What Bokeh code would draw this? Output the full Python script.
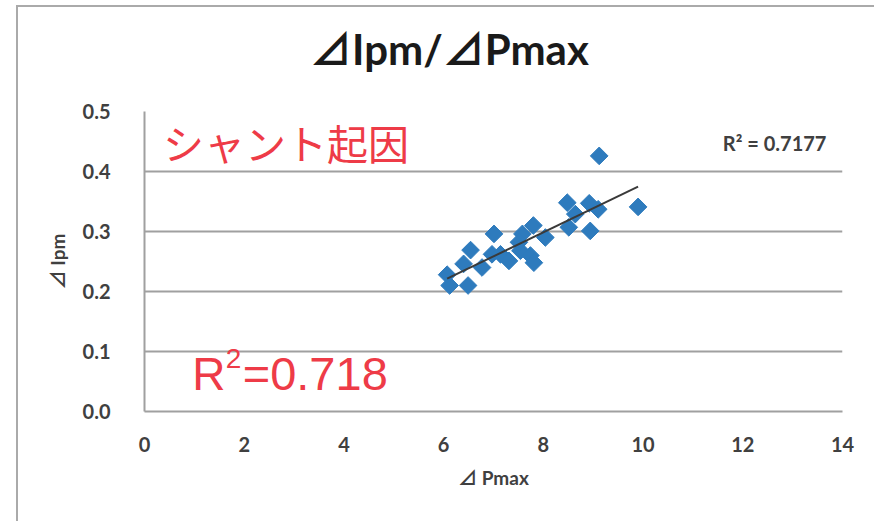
import numpy as np
from bokeh.plotting import figure
from bokeh.layouts import column
from bokeh.models import Label, Range1d, FixedTicker, NumeralTickFormatter, Div
from bokeh.embed import file_html
from bokeh.resources import INLINE

# ΔPmax vs ΔIpm measurements
d_pmax = [6.07, 6.12, 6.49, 6.40, 6.54, 6.77, 7.01, 6.97, 7.14, 7.31, 7.54, 7.58,
          7.51, 7.80, 8.04, 7.74, 7.81, 8.51, 8.48, 8.64, 8.94, 8.92, 9.10, 9.12, 9.90]
d_ipm = [0.228, 0.210, 0.210, 0.246, 0.269, 0.240, 0.296, 0.262, 0.262, 0.251, 0.268, 0.296,
         0.282, 0.310, 0.290, 0.260, 0.248, 0.307, 0.348, 0.329, 0.301, 0.347, 0.337, 0.426, 0.341]

x_ticks = [0, 2, 4, 6, 8, 10, 12, 14]
y_ticks = [0.0, 0.1, 0.2, 0.3, 0.4, 0.5]

title_text = "⊿Ipm/⊿Pmax"
x_label = "⊿ Pmax"
y_label = "⊿ Ipm"
note_text = "シャント起因"
r2_excel = "R² = 0.7177"

UI_FONT = "Lato, 'Noto Sans CJK JP', 'DejaVu Sans'"
TXT = "#404040"
GRID = "#a0a0a0"
RED = "#ee3b47"
BLUE = "#2e7bbd"

CHART_W = 856
HEAD_H = 90

# chart title block
head = Div(
    text=(f'<div style="margin:0; padding:21px 0 0 292px; line-height:1; '
          f'font-family:{UI_FONT}; font-weight:bold; font-size:42px; '
          f'color:#1a1a1a; white-space:nowrap;">{title_text}</div>'),
    width=CHART_W, height=HEAD_H, margin=0)

p = figure(width=CHART_W, height=514 - HEAD_H, output_backend="svg", toolbar_location=None,
           x_range=Range1d(0, 14), y_range=Range1d(0, 0.5),
           min_border_left=126, min_border_right=32,
           min_border_top=104 - HEAD_H, min_border_bottom=110, margin=0)
p.outline_line_color = None
p.background_fill_color = "white"
p.border_fill_color = "white"

# axes
p.xaxis.ticker = FixedTicker(ticks=x_ticks)
p.yaxis.ticker = FixedTicker(ticks=y_ticks)
p.yaxis.formatter = NumeralTickFormatter(format="0.0")
for ax in (p.xaxis[0], p.yaxis[0]):
    ax.axis_line_color = GRID
    ax.axis_line_width = 2
    ax.major_tick_line_color = None
    ax.minor_tick_line_color = None
    ax.major_label_text_font = UI_FONT
    ax.major_label_text_font_style = "bold"
    ax.major_label_text_font_size = "20px"
    ax.major_label_text_color = TXT
    ax.axis_label_text_font = UI_FONT
    ax.axis_label_text_font_style = "bold"
    ax.axis_label_text_font_size = "19px"
    ax.axis_label_text_color = TXT
p.xaxis.major_label_standoff = 19
p.yaxis.major_label_standoff = 28
p.xaxis.axis_label = x_label
p.yaxis.axis_label = y_label
p.xaxis.axis_label_standoff = 11
p.yaxis.axis_label_standoff = 11

p.xgrid.grid_line_color = None
p.ygrid.grid_line_color = GRID
p.ygrid.grid_line_width = 2

# linear trend line (least squares over the data range)
slope, intercept = np.polyfit(d_pmax, d_ipm, 1)
tx = [min(d_pmax), max(d_pmax)]
ty = [slope * v + intercept for v in tx]

p.scatter(d_pmax, d_ipm, marker="square", angle=np.pi / 4, size=12.5,
          fill_color=BLUE, line_color=BLUE)
p.line(tx, ty, line_color="#3a3a3a", line_width=2)

# trendline R² text
p.add_layout(Label(x=11.6, y=0.448, text=r2_excel, text_align="left",
                   text_baseline="middle", text_font=UI_FONT,
                   text_font_style="bold", text_font_size="20px", text_color=TXT))

# red annotations
p.add_layout(Label(x=0.37, y=0.450, text=note_text, text_align="left",
                   text_baseline="alphabetic", text_font="'Noto Sans CJK JP'",
                   text_font_size="41px", text_color=RED))
p.add_layout(Label(x=0.96, y=0.063, text="R", text_align="left",
                   text_baseline="alphabetic", text_font="'Liberation Sans'",
                   text_font_size="46px", text_color=RED))
p.add_layout(Label(x=1.63, y=0.088, text="2", text_align="left",
                   text_baseline="alphabetic", text_font="'Liberation Sans'",
                   text_font_size="28px", text_color=RED))
p.add_layout(Label(x=1.97, y=0.063, text="=0.718", text_align="left",
                   text_baseline="alphabetic", text_font="'Liberation Sans'",
                   text_font_size="47px", text_color=RED))

chart = column(head, p, spacing=0, margin=(5, 0, 0, 16),
               styles={"border-left": "2px solid #aaaaaa", "border-top": "2px solid #aaaaaa",
                       "background-color": "white"})

open("out.html", "w").write(file_html(chart, INLINE))
